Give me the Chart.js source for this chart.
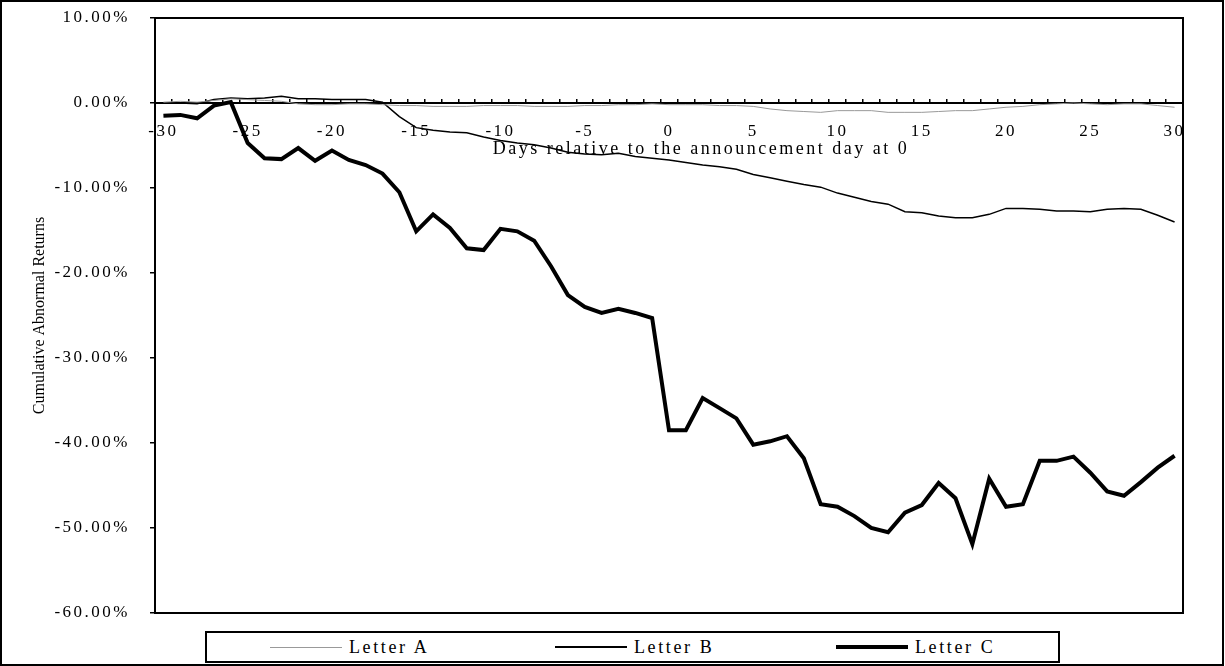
<!DOCTYPE html>
<html>

<head>
  <title>Cumulative Abnormal Returns</title>
  <script src="https://cdn.jsdelivr.net/npm/chart.js"></script>
  <style>
    body {
      margin: 0;
      background: #fff;
    }

    #car-wrap {
      position: relative;
      width: 1225px;
      height: 666px;
    }

    #car-chart {
      position: absolute;
      left: 0;
      top: 0;
    }

    #car-legend {
      position: absolute;
      left: 205px;
      top: 631px;
      width: 855px;
      height: 32px;
      border: 2px solid #000;
      box-sizing: border-box;
      font-family: 'Liberation Serif', serif;
      font-size: 18px;
      letter-spacing: 2.6px;
      color: #000;
      background: #fff;
    }

    .lg-item {
      position: absolute;
      top: 0;
      height: 100%;
      display: flex;
      align-items: center;
      white-space: nowrap;
    }

    .lg-item i {
      display: inline-block;
      width: 72px;
      margin-right: 7px;
      background: #000;
    }
  </style>
</head>

<body>
  <div id="car-wrap">
    <canvas id="car-chart" width="1225" height="666"></canvas>
    <div id="car-legend">
      <div class="lg-item" style="left:63px"><i style="height:1px;background:#999"></i>Letter A</div>
      <div class="lg-item" style="left:348px"><i style="height:2px"></i>Letter B</div>
      <div class="lg-item" style="left:629px"><i style="height:4px"></i>Letter C</div>
    </div>
  </div>

  <script>
    // event window, days relative to the announcement
    var days = [-30, -29, -28, -27, -26, -25, -24, -23, -22, -21,
      -20, -19, -18, -17, -16, -15, -14, -13, -12, -11,
      -10, -9, -8, -7, -6, -5, -4, -3, -2, -1,
      0, 1, 2, 3, 4, 5, 6, 7, 8, 9,
      10, 11, 12, 13, 14, 15, 16, 17, 18, 19,
      20, 21, 22, 23, 24, 25, 26, 27, 28, 29, 30];

    // cumulative abnormal returns, in %
    var letterA = [0.1, 0.2, 0.1, 0.3, 0.5, 0.4, 0.3, 0.2, -0.1, -0.2,
      -0.2, -0.1, -0.1, -0.2, -0.3, -0.3, -0.4, -0.4, -0.4, -0.3,
      -0.3, -0.3, -0.4, -0.4, -0.4, -0.3, -0.3, -0.2, -0.2, -0.1,
      -0.2, -0.2, -0.2, -0.3, -0.3, -0.4, -0.7, -0.9, -1.0, -1.1,
      -0.9, -0.9, -0.9, -1.1, -1.1, -1.1, -1.0, -0.9, -0.9, -0.7,
      -0.5, -0.4, -0.2, -0.1, 0.0, -0.1, -0.2, -0.1, -0.1, -0.3, -0.5];

    var letterB = [0.0, 0.0, -0.1, 0.4, 0.6, 0.5, 0.6, 0.8, 0.5, 0.5,
      0.4, 0.4, 0.4, 0.1, -1.6, -2.9, -3.2, -3.4, -3.5, -4.0,
      -4.4, -4.7, -4.9, -5.3, -5.8, -6.0, -6.1, -5.9, -6.3, -6.5,
      -6.7, -7.0, -7.3, -7.5, -7.8, -8.4, -8.8, -9.2, -9.6, -9.9,
      -10.6, -11.1, -11.6, -11.9, -12.8, -12.9, -13.3, -13.5, -13.5, -13.1,
      -12.4, -12.4, -12.5, -12.7, -12.7, -12.8, -12.5, -12.4, -12.5, -13.2, -14.0];

    var letterC = [-1.5, -1.4, -1.8, -0.3, 0.1, -4.7, -6.5, -6.6, -5.3, -6.8,
      -5.6, -6.7, -7.3, -8.3, -10.5, -15.1, -13.1, -14.7, -17.1, -17.3,
      -14.8, -15.1, -16.2, -19.2, -22.6, -24.0, -24.7, -24.2, -24.7, -25.3,
      -38.5, -38.5, -34.7, -35.9, -37.1, -40.2, -39.8, -39.2, -41.8, -47.2,
      -47.5, -48.6, -50.0, -50.5, -48.2, -47.3, -44.7, -46.5, -51.9, -44.2,
      -47.5, -47.2, -42.1, -42.1, -41.6, -43.5, -45.7, -46.2, -44.6, -42.9, -41.5];

    var yMin = -60, yMax = 10, yStep = 10;

    Chart.defaults.font.family = "'Liberation Serif', serif";
    Chart.defaults.font.size = 17;
    Chart.defaults.color = '#000';

    // letter spacing and sideways shift used for each axis title
    var titleSpacing = { x: '2.5px', y: '0px' };
    var titleShift = { x: 32, y: 0 };

    // frame around the plot area and the whole picture, plus the wide text spacing
    var framePlugin = {
      id: 'frame',
      afterLayout: function (chart) {
        Object.keys(titleSpacing).forEach(function (id) {
          var s = chart.scales[id];
          if (!s || s._spaced) return;
          var orig = s.drawTitle;
          s.drawTitle = function () {
            var c = this.ctx, old = c.letterSpacing;
            c.save();
            c.translate(titleShift[id], 0);
            c.letterSpacing = titleSpacing[id];
            orig.apply(this, arguments);
            c.restore();
            c.letterSpacing = old;
          };
          s._spaced = true;
        });
      },
      beforeDraw: function (chart) {
        chart.ctx.letterSpacing = '2.5px';
      },
      afterDraw: function (chart) {
        var ctx = chart.ctx, a = chart.chartArea;
        ctx.letterSpacing = '0px';
        ctx.save();
        ctx.strokeStyle = '#000';
        ctx.lineWidth = 2;
        ctx.strokeRect(a.left, a.top, a.right - a.left, a.bottom - a.top);
        ctx.strokeRect(1, 1, chart.width - 3, chart.height - 2);
        ctx.restore();
      }
    };

    var ctx = document.getElementById('car-chart').getContext('2d');
    var chart = new Chart(ctx, {
      type: 'line',
      data: {
        labels: days,
        datasets: [{
          label: 'Letter A',
          data: letterA,
          borderColor: '#999',
          borderWidth: 1,
          pointRadius: 0,
          tension: 0
        }, {
          label: 'Letter B',
          data: letterB,
          borderColor: '#000',
          borderWidth: 1.5,
          pointRadius: 0,
          tension: 0
        }, {
          label: 'Letter C',
          data: letterC,
          borderColor: '#000',
          borderWidth: 4,
          pointRadius: 0,
          tension: 0
        }]
      },
      plugins: [framePlugin],
      options: {
        responsive: false,
        animation: false,
        layout: {
          padding: { left: 0, top: 18, right: 42, bottom: 53 }
        },
        plugins: {
          legend: { display: false },
          tooltip: { enabled: false }
        },
        scales: {
          x: {
            type: 'category',
            position: { y: 0 },
            offset: true,
            grid: {
              drawOnChartArea: false,
              offset: true,
              tickLength: -5,
              color: '#000',
              lineWidth: 1.5
            },
            border: { color: '#000', width: 2 },
            ticks: {
              autoSkip: false,
              maxRotation: 0,
              padding: 23,
              callback: function (v, i) {
                return days[i] % 5 === 0 ? String(days[i]) : '';
              }
            },
            title: {
              display: true,
              text: 'Days relative to the announcement day at 0',
              font: { size: 18 },
              padding: { top: -26, bottom: 0 }
            }
          },
          y: {
            min: yMin,
            max: yMax,
            ticks: {
              stepSize: yStep,
              padding: 20,
              callback: function (v) {
                return v.toFixed(2) + '%';
              }
            },
            grid: {
              drawOnChartArea: false,
              tickLength: 5,
              color: '#000',
              lineWidth: 1.5
            },
            border: { color: '#000', width: 2 },
            title: {
              display: true,
              text: 'Cumulative Abnormal Returns',
              font: { size: 16 },
              padding: { top: 30, bottom: 0 }
            },
            afterFit: function (scale) {
              scale.width = 155;
              scale.paddingTop = 10;
              scale.paddingBottom = 10;
            }
          }
        }
      }
    });
  </script>
</body>

</html>
